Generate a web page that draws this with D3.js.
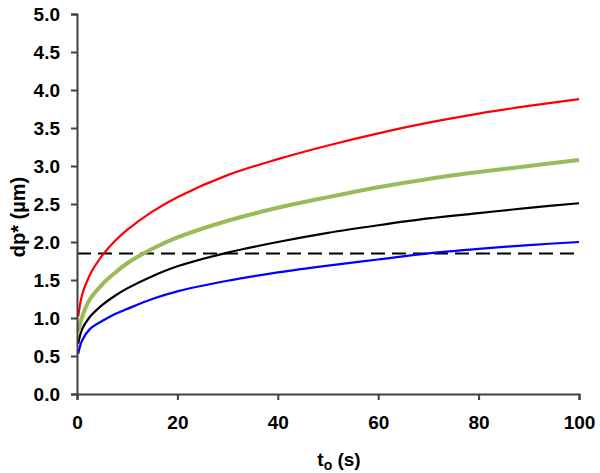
<!DOCTYPE html>
<html><head><meta charset="utf-8">
<script src="https://cdn.jsdelivr.net/npm/d3@7"></script>
<style>body{margin:0;background:#fff}svg{display:block}text{font-family:"Liberation Sans",Arial,sans-serif;font-weight:bold;fill:#000}</style>
</head><body><svg id="c" width="600" height="473"></svg>
<script>
const times = [0.25, 1, 2.5, 5, 7.5, 10, 15, 20, 30, 40, 50, 60, 70, 80, 90, 100];
const redValues   = [1.02, 1.30, 1.56, 1.82, 2.01, 2.16, 2.40, 2.59, 2.88, 3.09, 3.27, 3.43, 3.57, 3.69, 3.79, 3.88];
const greenValues = [0.82, 1.01, 1.24, 1.44, 1.59, 1.72, 1.91, 2.06, 2.28, 2.45, 2.59, 2.72, 2.83, 2.92, 3.00, 3.08];
const blackValues = [0.66, 0.85, 1.01, 1.17, 1.29, 1.39, 1.55, 1.68, 1.86, 2.00, 2.12, 2.22, 2.31, 2.38, 2.45, 2.51];
const blueValues  = [0.53, 0.70, 0.85, 0.96, 1.05, 1.12, 1.25, 1.35, 1.49, 1.60, 1.69, 1.77, 1.85, 1.91, 1.96, 2.00];
const thresholdValue = 1.85;
const xTicks = [0, 20, 40, 60, 80, 100];
const yTicks = [0, 0.5, 1, 1.5, 2, 2.5, 3, 3.5, 4, 4.5, 5];

const svg = d3.select("#c");
const x = d3.scaleLinear().domain([0, 100]).range([77, 579]);
const y = d3.scaleLinear().domain([0, 5]).range([394, 14]);

const series = [
  {vals: blueValues, color: "#0000ff", w: 2.2},
  {vals: blackValues, color: "#000000", w: 2.2},
  {vals: greenValues, color: "#9bbb59", w: 4},
  {vals: redValues, color: "#ff0000", w: 2.2}
];
const line = d3.line().x(d => x(d[0])).y(d => y(d[1])).curve(d3.curveCatmullRom.alpha(0.5));

svg.append("line").attr("x1", x(0)).attr("x2", x(100))
  .attr("y1", y(thresholdValue)).attr("y2", y(thresholdValue))
  .attr("stroke", "#000").attr("stroke-width", 2).attr("stroke-dasharray", "14,7");

series.forEach(s => {
  svg.append("path").datum(times.map((t, i) => [t, s.vals[i]]))
    .attr("d", line).attr("fill", "none").attr("stroke", s.color)
    .attr("stroke-width", s.w).attr("stroke-linejoin", "round");
});

const xa = svg.append("g").attr("transform", "translate(0,394)")
  .call(d3.axisBottom(x).tickValues(xTicks).tickSize(6).tickPadding(16).tickFormat(d3.format("d")));
const ya = svg.append("g").attr("transform", "translate(77,0)")
  .call(d3.axisLeft(y).tickValues(yTicks).tickSize(6).tickPadding(11).tickFormat(d3.format(".1f")));
[xa, ya].forEach(a => {
  a.select(".domain").attr("stroke", "#404040").attr("stroke-width", 2);
  a.selectAll(".tick line").attr("stroke", "#404040").attr("stroke-width", 2);
  a.selectAll(".tick text").style("font-size", "19px").style("font-family", "Liberation Sans, Arial, sans-serif").style("font-weight", "bold").attr("fill", "#000");
});

const xl = svg.append("text").attr("x", 339).attr("y", 466).attr("text-anchor", "middle").style("font-size", "19px");
xl.append("tspan").text("t");
xl.append("tspan").text("o").attr("dy", 4).style("font-size", "14px");
xl.append("tspan").text(" (s)").attr("dy", -4);

svg.append("text").attr("transform", "translate(25,217) rotate(-90)").attr("text-anchor", "middle")
  .style("font-size", "20px").text("dp* (µm)");
</script></body></html>
